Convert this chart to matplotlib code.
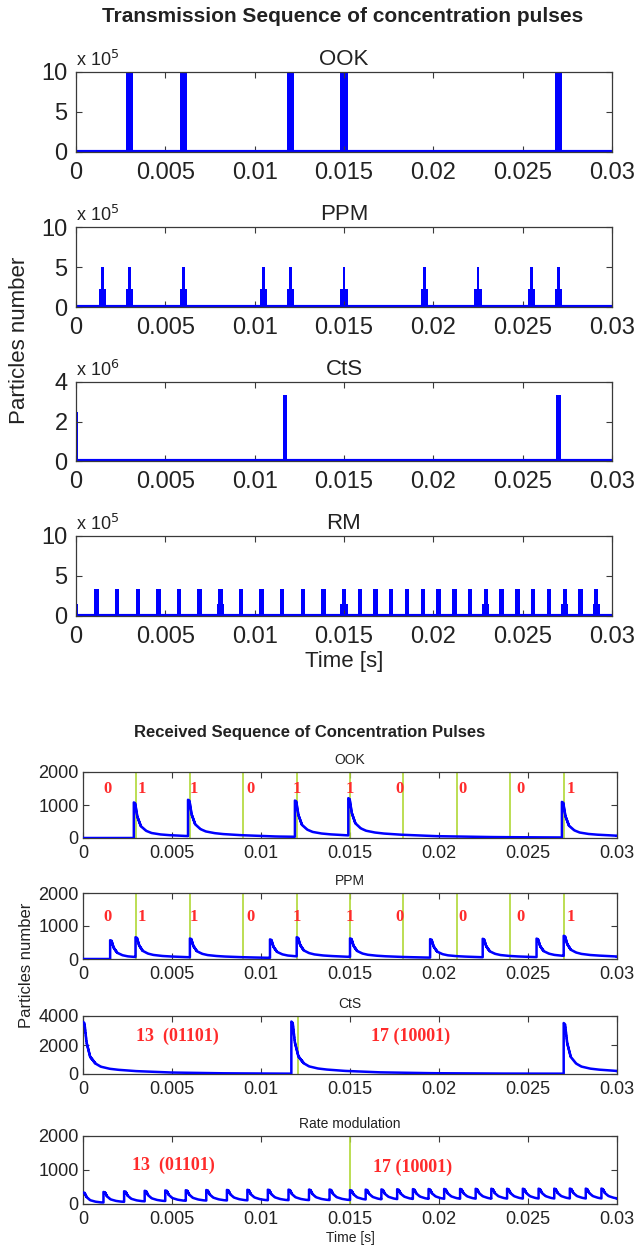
import numpy as np
import matplotlib
matplotlib.use("Agg")
from matplotlib import pyplot as plt
from matplotlib.ticker import FuncFormatter

plt.rcParams["font.family"] = ["Liberation Sans", "DejaVu Sans"]

BLUE = "#0000ff"
GREEN = "#b0d836"
RED = "#ff2b2b"
EDGE = "#3a3a3a"

# ---- transmitted pulses (particles) ----
ook_tx_times = [0.003, 0.006, 0.012, 0.015, 0.027]
ook_tx_heights = [1.0e6, 1.0e6, 1.0e6, 1.0e6, 1.0e6]

ppm_tx_times = [0.0015, 0.003, 0.006, 0.0105, 0.012, 0.015, 0.0195, 0.0225, 0.0255, 0.027]
ppm_tx_peak = [5.0e5] * 10
ppm_tx_base = [2.3e5] * 10

cts_tx_times = [0.0, 0.0117, 0.027]
cts_tx_heights = [2.5e6, 3.35e6, 3.35e6]

rm_tx_times = [0.0, 0.00115, 0.00231, 0.00346, 0.00462, 0.00577, 0.00692, 0.00808,
               0.00923, 0.01038, 0.01154, 0.01269, 0.01385, 0.015, 0.01588, 0.01676,
               0.01765, 0.01853, 0.01941, 0.02029, 0.02118, 0.02206, 0.02294, 0.02382,
               0.02471, 0.02559, 0.02647, 0.02735, 0.02824, 0.02912]
rm_tx_heights = [1.5e5] + [3.4e5] * 29
rm_step_times = [0.00808, 0.015, 0.02294, 0.02735, 0.02912]
rm_step_heights = [1.5e5] * 5

# ---- received pulses ----
# decay profile read off the OOK received pulse (fraction of peak vs. delay)
rx_shape_dt = [0.0, 0.00008, 0.0002, 0.0004, 0.0007, 0.001, 0.0015, 0.002,
               0.003, 0.005, 0.008, 0.012, 0.02]
rx_shape_frac = [1.0, 0.97, 0.6, 0.33, 0.2, 0.14, 0.1, 0.08, 0.055, 0.028, 0.013,
                 0.006, 0.002]

ook_rx_onsets = [0.00285, 0.0059, 0.0119, 0.0149, 0.0269]
ook_rx_peaks = [1080, 1100, 1100, 1130, 1080]

ppm_rx_onsets = [0.00152, 0.00295, 0.006, 0.0105, 0.012, 0.015, 0.0195, 0.02245, 0.02548, 0.027]
ppm_rx_peaks = [570, 600, 570, 560, 580, 560, 560, 560, 560, 610]

cts_rx_onsets = [0.0, 0.0117, 0.027]
cts_rx_peaks = [3600, 3600, 3500]

rm_rx_onsets = rm_tx_times
rm_rx_peaks = [340] + [310] * 12 + [290] * 17

bit_lines = [0.003, 0.006, 0.009, 0.012, 0.015, 0.018, 0.021, 0.024, 0.027]
bit_labels = ["0", "1", "1", "0", "1", "1", "0", "0", "0", "1"]
bit_label_x = [0.00136, 0.0033, 0.0062, 0.0094, 0.0120, 0.0150, 0.0178, 0.0213, 0.0246, 0.0274]

cts_lines = [0.0121]
rm_lines = [0.015]
word_labels = ["13  (01101)", "17 (10001)"]
cts_word_x = [0.0053, 0.0184]
cts_word_y = [2580, 2580]
rm_word_x = [0.0051, 0.0185]
rm_word_y = [1150, 1070]

XTICKS = [0, 0.005, 0.01, 0.015, 0.02, 0.025, 0.03]
XLABELS = ["0", "0.005", "0.01", "0.015", "0.02", "0.025", "0.03"]

W, H = 635, 1247
fig = plt.figure(figsize=(W / 100, H / 100), dpi=100)


def make_axes(x0, x1, y0, y1):
    return fig.add_axes([x0 / W, 1 - y1 / H, (x1 - x0) / W, (y1 - y0) / H])


def style(ax, size, xpad, ypad):
    ax.set_xlim(0, 0.03)
    ax.set_xticks(XTICKS)
    ax.set_xticklabels(XLABELS)
    ax.tick_params(direction="in", top=True, right=True, length=4, width=0.8,
                   labelsize=size, colors=EDGE)
    ax.tick_params(axis="x", pad=xpad)
    ax.tick_params(axis="y", pad=ypad)
    for lab in ax.get_xticklabels() + ax.get_yticklabels():
        lab.set_color("#222222")
    for sp in ax.spines.values():
        sp.set_color(EDGE)
        sp.set_linewidth(0.9)


def received(onsets, peaks, t):
    y = np.zeros_like(t)
    for t0, p in zip(onsets, peaks):
        y += p * np.interp(t - t0, rx_shape_dt, rx_shape_frac, left=0.0)
    return y


# ================= transmitted =================
top_rows = [(72, 152), (227, 307), (382, 461), (536, 616)]
top_axes = [make_axes(76, 612, a, b) for a, b in top_rows]
titles = ["OOK", "PPM", "CtS", "RM"]

ax = top_axes[0]
ax.bar(ook_tx_times, ook_tx_heights, width=0.0004, color=BLUE)
ax = top_axes[1]
ax.bar(ppm_tx_times, ppm_tx_base, width=0.0004, color=BLUE)
ax.bar(ppm_tx_times, ppm_tx_peak, width=0.00016, color=BLUE)
ax = top_axes[2]
ax.bar(cts_tx_times, cts_tx_heights, width=0.00024, color=BLUE)
ax = top_axes[3]
ax.bar(rm_tx_times, rm_tx_heights, width=0.00024, color=BLUE)
ax.bar(rm_step_times, rm_step_heights, width=0.0004, color=BLUE)

for i, ax in enumerate(top_axes):
    ax.axhline(0, color=BLUE, lw=3)
    style(ax, 17, 7, 6)
    if i == 2:
        ax.set_ylim(0, 4e6)
        ax.set_yticks([0, 2e6, 4e6])
        ax.yaxis.set_major_formatter(FuncFormatter(lambda v, p: f"{v / 1e6:g}"))
        expo = r"x 10$^{6}$"
    else:
        ax.set_ylim(0, 1e6)
        ax.set_yticks([0, 5e5, 1e6])
        ax.yaxis.set_major_formatter(FuncFormatter(lambda v, p: f"{v / 1e5:g}"))
        expo = r"x 10$^{5}$"
    ax.set_title(titles[i], fontsize=16, color="#222222", pad=5)
    ax.text(0.0, 1.03, expo, transform=ax.transAxes, fontsize=13, color="#222222",
            ha="left", va="bottom")

top_axes[3].set_xlabel("Time [s]", fontsize=16, color="#222222", labelpad=2)
fig.text(20 / W, 1 - 340 / H, "Particles number", rotation=90, fontsize=16,
         color="#222222", ha="center", va="center")
fig.text(343 / W, 1 - 17 / H, "Transmission Sequence of concentration pulses",
         fontsize=15, fontweight="bold", color="#222222", ha="center", va="center")

# ================= received =================
t = np.linspace(0, 0.03, 6001)
bot_rows = [(772, 838), (893, 959), (1016, 1074), (1136, 1204)]
bot_axes = [make_axes(83, 617, a, b) for a, b in bot_rows]
bot_titles = ["OOK", "PPM", "CtS", "Rate modulation"]
rx_sets = [(ook_rx_onsets, ook_rx_peaks), (ppm_rx_onsets, ppm_rx_peaks),
           (cts_rx_onsets, cts_rx_peaks), (rm_rx_onsets, rm_rx_peaks)]

for i, ax in enumerate(bot_axes):
    on, pk = rx_sets[i]
    ax.plot(t, received(on, pk, t), color=BLUE, lw=1.8, drawstyle="steps-post", zorder=3)
    style(ax, 13, 5, 3)
    if i == 2:
        ax.set_ylim(0, 4000)
        ax.set_yticks([0, 2000, 4000])
    else:
        ax.set_ylim(0, 2000)
        ax.set_yticks([0, 1000, 2000])
    ax.set_title(bot_titles[i], fontsize=10, color="#222222", pad=6)

for ax, ylab in zip(bot_axes[:2], [1480, 1280]):
    for x in bit_lines:
        ax.axvline(x, color=GREEN, lw=1.2, zorder=2)
    for x, s in zip(bit_label_x, bit_labels):
        ax.text(x, ylab, s, color=RED, fontsize=12, fontweight="bold",
                family="Liberation Serif", ha="center", va="center")

for ax, lines, wx, wy in [(bot_axes[2], cts_lines, cts_word_x, cts_word_y),
                          (bot_axes[3], rm_lines, rm_word_x, rm_word_y)]:
    for x in lines:
        ax.axvline(x, color=GREEN, lw=1.2, zorder=2)
    for x, y, s in zip(wx, wy, word_labels):
        ax.text(x, y, s, color=RED, fontsize=13, fontweight="bold",
                family="Liberation Serif", ha="center", va="center")

bot_axes[3].set_xlabel("Time [s]", fontsize=10, color="#222222", labelpad=2)
fig.text(27 / W, 1 - 965 / H, "Particles number", rotation=90, fontsize=12,
         color="#222222", ha="center", va="center")
fig.text(310 / W, 1 - 732 / H, "Received Sequence of Concentration Pulses",
         fontsize=12, fontweight="bold", color="#222222", ha="center", va="center")

fig.savefig("out.png", dpi=100)
